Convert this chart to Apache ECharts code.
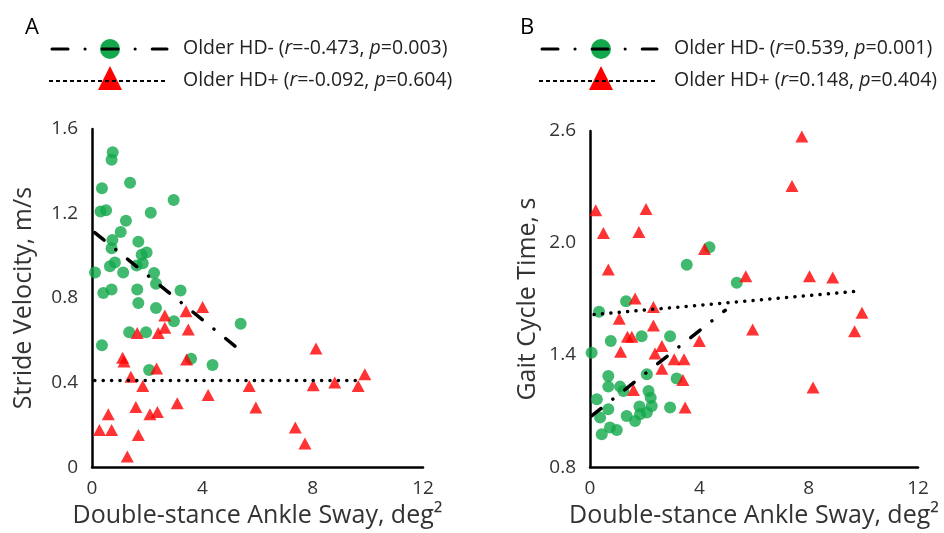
<!DOCTYPE html>
<html>
<head>
<meta charset="utf-8">
<script src="https://cdn.jsdelivr.net/npm/echarts@6/dist/echarts.min.js"></script>
<style>
  html, body { margin: 0; padding: 0; background: #fff; }
  #chart { width: 944px; height: 533px; }
</style>
</head>
<body>
<div id="chart"></div>
<script>
// panel A: stride velocity (m/s) vs ankle sway (deg^2)
const hdNegA = [
  [0.75, 1.49], [0.71, 1.455], [1.38, 1.346], [0.36, 1.32], [2.96, 1.264],
  [0.31, 1.21], [0.51, 1.215], [2.13, 1.204], [1.23, 1.166], [1.04, 1.113],
  [0.74, 1.075], [1.68, 1.067], [0.71, 1.036], [1.8, 1.005], [1.98, 1.016],
  [0.83, 0.968], [0.65, 0.95], [1.62, 0.954], [1.84, 0.965], [0.11, 0.921],
  [1.13, 0.921], [2.25, 0.918], [2.32, 0.868], [0.41, 0.824], [0.71, 0.84],
  [1.64, 0.84], [3.21, 0.836], [1.68, 0.777], [2.32, 0.753], [2.97, 0.69],
  [1.35, 0.638], [1.96, 0.638], [5.39, 0.678], [0.36, 0.577], [3.59, 0.513],
  [4.37, 0.483], [2.07, 0.459]
];
const hdPosA = [
  [2.64, 0.718], [3.41, 0.737], [4.01, 0.758], [2.64, 0.659], [3.49, 0.651],
  [1.64, 0.635], [2.4, 0.635], [1.11, 0.517], [1.16, 0.5], [3.43, 0.509],
  [2.34, 0.467], [1.41, 0.428], [1.84, 0.384], [4.21, 0.341], [3.09, 0.302],
  [1.59, 0.285], [2.1, 0.25], [2.37, 0.261], [0.59, 0.25], [0.27, 0.176],
  [0.71, 0.176], [1.68, 0.152], [1.28, 0.05], [8.12, 0.561], [5.7, 0.384],
  [5.94, 0.282], [8.02, 0.387], [8.8, 0.4], [9.65, 0.384], [9.89, 0.439],
  [7.37, 0.187], [7.72, 0.112]
];
const trendNegA = [[0.1, 1.11], [5.4, 0.55]];
const trendPosA = [[0.1, 0.41], [9.8, 0.41]];
const yTicksA = [0, 0.4, 0.8, 1.2, 1.6];

// panel B: gait cycle time (s) vs ankle sway (deg^2)
const hdNegB = [
  [4.37, 1.977], [3.54, 1.884], [5.37, 1.787], [0.33, 1.632], [1.32, 1.688],
  [0.76, 1.475], [1.89, 1.501], [2.93, 1.501], [0.06, 1.413], [3.17, 1.274],
  [2.08, 1.297], [0.67, 1.288], [0.67, 1.231], [1.1, 1.231], [1.22, 1.208],
  [0.25, 1.163], [2.14, 1.208], [2.22, 1.172], [2.26, 1.127], [2.08, 1.092],
  [1.81, 1.124], [1.83, 1.083], [1.34, 1.074], [1.65, 1.047], [0.67, 1.11],
  [0.37, 1.065], [2.93, 1.119], [0.43, 0.976], [0.73, 1.012], [0.98, 0.999]
];
const hdPosB = [
  [7.75, 2.57], [7.39, 2.306], [0.21, 2.175], [2.05, 2.182], [0.49, 2.054],
  [1.79, 2.059], [0.67, 1.858], [4.19, 1.968], [5.7, 1.822], [8.03, 1.822],
  [8.88, 1.815], [9.95, 1.626], [9.68, 1.528], [5.95, 1.537], [1.65, 1.703],
  [1.07, 1.594], [2.32, 1.658], [2.32, 1.559], [1.37, 1.498], [1.53, 1.498],
  [2.63, 1.448], [4.0, 1.475], [1.12, 1.418], [2.38, 1.409], [3.08, 1.377],
  [3.44, 1.377], [2.63, 1.327], [3.4, 1.266], [1.59, 1.213], [3.48, 1.119],
  [8.16, 1.226]
];
const trendNegB = [[0.06, 1.074], [4.95, 1.64]];
const trendPosB = [[0.15, 1.617], [9.8, 1.742]];
const yTicksB = [0.8, 1.4, 2.0, 2.6];

const xTicks = [0, 4, 8, 12];
const legendA = ['Older HD- ({i|r}=-0.473, {i|p}=0.003)', 'Older HD+ ({i|r}=-0.092, {i|p}=0.604)'];
const legendB = ['Older HD- ({i|r}=0.539, {i|p}=0.001)', 'Older HD+ ({i|r}=0.148, {i|p}=0.404)'];

const GREEN = '#12a84b';
const RED = '#ff0000';
const FONT = 'Open Sans';
const TXT = '#333';

function axisBase(extra) {
  return Object.assign({
    type: 'value',
    axisLine: { show: true, lineStyle: { color: '#000', width: 2.5 } },
    axisTick: { show: false },
    splitLine: { show: false },
    nameLocation: 'middle',
    nameTextStyle: { fontFamily: FONT, fontSize: 25, color: TXT }
  }, extra);
}

function xAxisFor(idx) {
  return axisBase({
    gridIndex: idx, min: 0, max: 12,
    name: 'Double-stance Ankle Sway, deg\u00B2', nameGap: 33,
    axisLabel: { customValues: xTicks, margin: 12, fontFamily: FONT, fontSize: 19, color: TXT }
  });
}

function yAxisFor(idx, ticks, name, gap) {
  return axisBase({
    gridIndex: idx, min: ticks[0], max: ticks[ticks.length - 1],
    name: name, nameGap: gap,
    axisLabel: {
      customValues: ticks, margin: 14, fontFamily: FONT, fontSize: 19, color: TXT,
      formatter: v => (v === 0 ? '0' : v.toFixed(1))
    }
  });
}

function panelSeries(idx, neg, pos, tNeg, tPos) {
  return [
    { type: 'scatter', xAxisIndex: idx, yAxisIndex: idx, data: neg, symbol: 'circle', symbolSize: 12,
      itemStyle: { color: GREEN }, z: 2 },
    { type: 'scatter', xAxisIndex: idx, yAxisIndex: idx, data: pos, symbol: 'triangle', symbolSize: [13, 12],
      itemStyle: { color: RED }, z: 3 },
    { type: 'line', xAxisIndex: idx, yAxisIndex: idx, data: tNeg, symbol: 'none', z: 4,
      lineStyle: { color: '#000', width: 3.5, type: [12, 15, 0.1, 15], cap: 'round' } },
    { type: 'line', xAxisIndex: idx, yAxisIndex: idx, data: tPos, symbol: 'none', z: 4,
      lineStyle: { color: '#000', width: 3.5, type: [0.1, 8.3], cap: 'round' } }
  ];
}

// legend drawn as graphic: sample line + marker + label with italic r and p
function legendGraphic(x0, textX, mid, labels, letter, letterX) {
  const textStyle = (t, y) => ({
    type: 'text', x: textX, y: y,
    style: { text: t, fontFamily: FONT, fontSize: 19.5, fill: '#222', verticalAlign: 'middle',
      rich: { i: { fontStyle: 'italic', fontFamily: FONT, fontSize: 19.5, fill: '#222' } } }
  });
  return [
    { type: 'text', x: letterX, y: 28, style: { text: letter, fontFamily: FONT, fontSize: 22, fill: '#000',
      verticalAlign: 'middle', align: 'center' } },
    { type: 'circle', shape: { cx: mid, cy: 49, r: 10 }, style: { fill: GREEN } },
    { type: 'line', shape: { x1: x0, y1: 49, x2: x0 + 115, y2: 49 },
      style: { stroke: '#000', lineWidth: 3, lineDash: [16, 17, 0.1, 17], lineCap: 'round' } },
    textStyle(labels[0], 48),
    { type: 'polygon', shape: { points: [[mid, 66], [mid - 12, 90], [mid + 12, 90]] }, style: { fill: RED } },
    { type: 'line', shape: { x1: x0 - 3, y1: 81, x2: x0 + 115, y2: 81 },
      style: { stroke: '#000', lineWidth: 2, lineDash: [4, 3] } },
    textStyle(labels[1], 80)
  ];
}

const chart = echarts.init(document.getElementById('chart'));
chart.setOption({
  animation: false,
  backgroundColor: '#fff',
  grid: [
    { left: 92, top: 129, width: 331, height: 339 },
    { left: 590, top: 131, width: 328, height: 337 }
  ],
  xAxis: [xAxisFor(0), xAxisFor(1)],
  yAxis: [
    yAxisFor(0, yTicksA, 'Stride Velocity, m/s', 56),
    yAxisFor(1, yTicksB, 'Gait Cycle Time, s', 50)
  ],
  series: panelSeries(0, hdNegA, hdPosA, trendNegA, trendPosA)
    .concat(panelSeries(1, hdNegB, hdPosB, trendNegB, trendPosB)),
  graphic: legendGraphic(52, 183, 110, legendA, 'A', 32)
    .concat(legendGraphic(542, 674, 601, legendB, 'B', 527))
});
</script>
</body>
</html>
